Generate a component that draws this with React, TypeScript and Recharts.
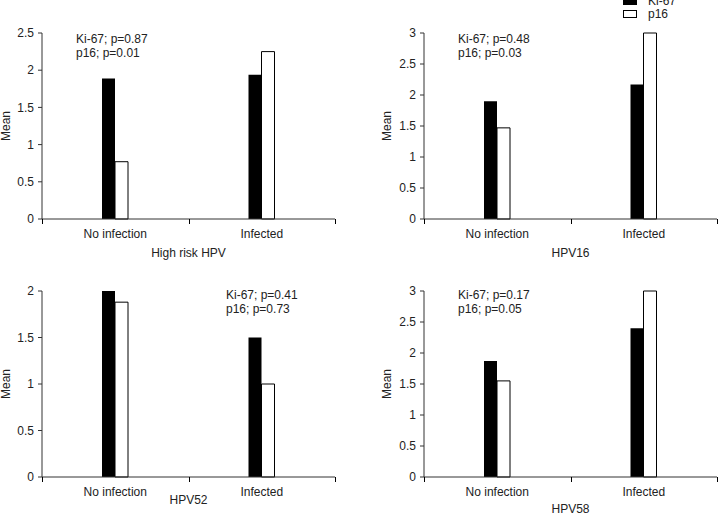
import React from 'react'
import { BarChart, Bar, XAxis, YAxis } from 'recharts'

// ── Data ──────────────────────────────────────────────────────────────────

const categories = ['No infection', 'Infected']

const highRiskKi67 = [1.89, 1.94]
const highRiskP16 = [0.77, 2.25]
const hpv16Ki67 = [1.9, 2.17]
const hpv16P16 = [1.47, 3.0]
const hpv52Ki67 = [2.0, 1.5]
const hpv52P16 = [1.88, 1.0]
const hpv58Ki67 = [1.87, 2.4]
const hpv58P16 = [1.55, 3.0]

const ticks25 = [0, 0.5, 1, 1.5, 2, 2.5]
const ticks3 = [0, 0.5, 1, 1.5, 2, 2.5, 3]
const ticks2 = [0, 0.5, 1, 1.5, 2]

const pHighRisk = ['Ki-67; p=0.87', 'p16; p=0.01']
const pHpv16 = ['Ki-67; p=0.48', 'p16; p=0.03']
const pHpv52 = ['Ki-67; p=0.41', 'p16; p=0.73']
const pHpv58 = ['Ki-67; p=0.17', 'p16; p=0.05']

const build = (ki: number[], p16: number[]) =>
  categories.map((name, i) => ({ name, ki67: ki[i], p16: p16[i] }))

// ── Shared styles ─────────────────────────────────────────────────────────

const FONT = '"Liberation Sans", Arial, sans-serif'
const TEXT = '#222'
const AXIS = '#333'
const TICK_SIZE = 6
const TICK_MARGIN = 2
const PLOT_WIDTH = 293
const MARGIN_RIGHT = 5

// category label plus tick marks on the band edges (not the centre)
function CategoryTick(props: any) {
  const { x, y, payload } = props
  const half = payload.offset ?? 0
  const axisY = y - TICK_SIZE - TICK_MARGIN
  const lx = Math.round(x - half) + 0.5
  const rx = Math.round(x + half) + 0.5
  return (
    <g>
      <path d={`M${lx},${axisY}v5M${rx},${axisY}v5`} stroke="#000" strokeWidth={1} fill="none" />
      <text x={x} y={y + 2} dy="0.71em" textAnchor="middle" fontSize={12} fill={TEXT} fontFamily={FONT}>
        {payload.value}
      </text>
    </g>
  )
}

function MeanLabel(props: any) {
  const vb = props.viewBox
  const cx = Math.max(vb.x + vb.width - 37, 6)
  const cy = vb.y + vb.height / 2
  return (
    <text x={cx} y={cy} transform={`rotate(-90 ${cx} ${cy})`} textAnchor="middle" dominantBaseline="central"
      fontSize={12} fill={TEXT} fontFamily={FONT}>Mean</text>
  )
}

interface PanelProps {
  ki: number[]
  p16: number[]
  ticks: number[]
  title: string
  titleGap: number
  left: number
  top: number
  axisWidth: number
}

function Panel({ ki, p16, ticks, title, titleGap, left, top, axisWidth }: PanelProps) {
  const data = build(ki, p16)
  return (
    <div style={{ position: 'absolute', left, top }}>
      <BarChart width={PLOT_WIDTH + MARGIN_RIGHT + axisWidth} height={260} data={data} barGap={0}
        margin={{ top: 33, right: MARGIN_RIGHT, left: 0, bottom: 0 }}>
        <XAxis dataKey="name" height={41} tickLine={false} tickSize={TICK_SIZE} tickMargin={TICK_MARGIN}
          stroke={AXIS} tick={(p: any) => <CategoryTick {...p} />} interval={0}
          label={{
            content: (p: any) => {
              const vb = p.viewBox
              return (
                <text x={vb.x + vb.width / 2} y={vb.y + titleGap} textAnchor="middle" dominantBaseline="central"
                  fontSize={12} fill={TEXT} fontFamily={FONT}>{title}</text>
              )
            },
          }}
        />
        <YAxis width={axisWidth} domain={[0, ticks[ticks.length - 1]]} ticks={ticks} interval={0}
          tickSize={4} tickMargin={4} stroke={AXIS}
          tick={{ fontSize: 12, fill: TEXT, fontFamily: FONT }}
          label={{ content: (p: any) => <MeanLabel {...p} /> }}
        />
        <Bar dataKey="ki67" fill="#000" barSize={13} isAnimationActive={false} />
        <Bar dataKey="p16" fill="#fff" stroke="#000" strokeWidth={1} barSize={13} isAnimationActive={false} />
      </BarChart>
    </div>
  )
}

function Note({ lines, left, top }: { lines: string[]; left: number; top: number }) {
  return (
    <div style={{ position: 'absolute', left, top, fontFamily: FONT, fontSize: 12, lineHeight: '14px', color: TEXT }}>
      {lines.map((l) => <div key={l}>{l}</div>)}
    </div>
  )
}

function LegendBox() {
  const item = (fill: string, label: string, top: number) => (
    <div style={{ position: 'absolute', left: 623, top, display: 'flex', alignItems: 'center' }}>
      <div style={{ width: 14, height: 8, background: fill, border: '1px solid #000', boxSizing: 'border-box' }} />
      <span style={{ marginLeft: 11, fontFamily: FONT, fontSize: 12, color: TEXT, lineHeight: '14px' }}>{label}</span>
    </div>
  )
  return (
    <>
      {item('#000', 'Ki-67', -6)}
      {item('#fff', 'p16', 7)}
    </>
  )
}

export default function App() {
  return (
    <div style={{ position: 'absolute', left: 0, top: 0, width: 723, height: 518, background: '#fff', overflow: 'hidden' }}>
      <Panel ki={highRiskKi67} p16={highRiskP16} ticks={ticks25} title="High risk HPV" titleGap={34} left={0} top={0} axisWidth={42} />
      <Panel ki={hpv16Ki67} p16={hpv16P16} ticks={ticks3} title="HPV16" titleGap={34} left={372} top={0} axisWidth={52} />
      <Panel ki={hpv52Ki67} p16={hpv52P16} ticks={ticks2} title="HPV52" titleGap={23} left={0} top={258} axisWidth={42} />
      <Panel ki={hpv58Ki67} p16={hpv58P16} ticks={ticks3} title="HPV58" titleGap={32} left={372} top={258} axisWidth={52} />
      <Note lines={pHighRisk} left={76} top={32} />
      <Note lines={pHpv16} left={458} top={32} />
      <Note lines={pHpv52} left={226} top={288} />
      <Note lines={pHpv58} left={458} top={288} />
      <LegendBox />
    </div>
  )
}
